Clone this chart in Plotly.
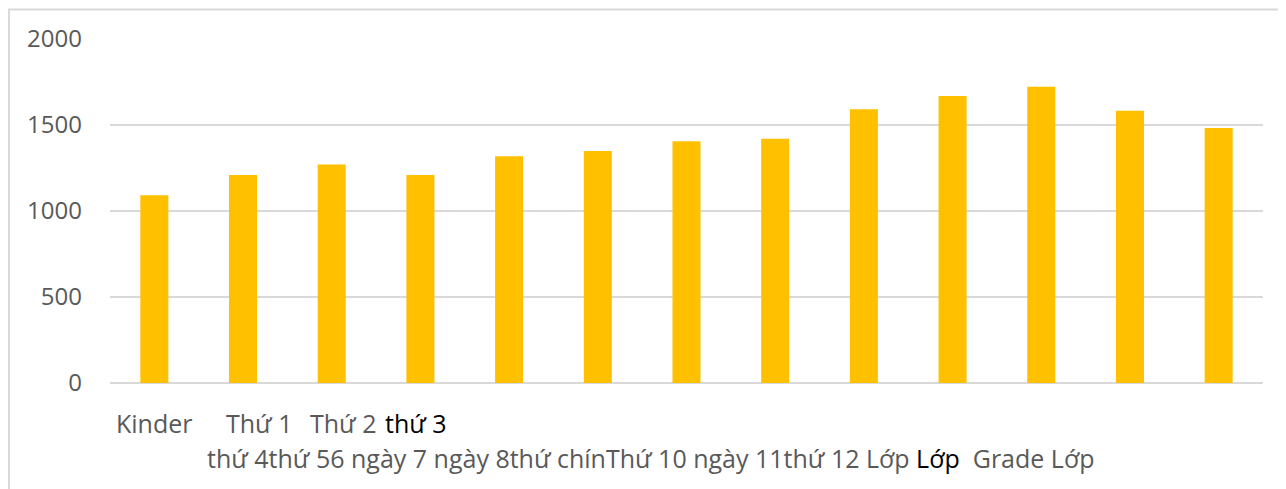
import plotly.graph_objects as go

# ---- data ----
categories = ["Kinder", "Thứ 1", "Thứ 2", "thứ 3", "thứ 4", "thứ 5", "6 ngày",
              "ngày 7", "ngày 8", "thứ chín", "Thứ 10", "ngày 11", "thứ 12"]
values = [1091, 1209, 1271, 1209, 1318, 1349, 1405, 1420, 1591, 1668, 1722, 1583, 1482]
y_ticks = [0, 500, 1000, 1500, 2000]

# axis label text as it appears (two rows)
label_row1 = ["Kinder", "Thứ 1", "Thứ 2", "thứ 3"]
label_row1_colors = ["#595959", "#595959", "#595959", "#000000"]
label_row2_parts = [("thứ 4thứ 56 ngày 7 ngày 8thứ chínThứ 10 ngày 11thứ 12 Lớp ", "#595959"),
                    ("Lớp", "#000000"),
                    ("  Grade Lớp", "#595959")]

# ---- layout geometry (page body has an 8px offset) ----
OFF = 8
W, H = 1286, 489
ML = 110 - OFF
MT = 38.5 - OFF
MR = W - (1263 - OFF)
MB = H - (383 - OFF)
PW, PH = W - ML - MR, H - MT - MB

def px_x(px):
    return (px - OFF - ML) / PW

def px_y(py):
    return (H - MB - (py - OFF)) / PH

GREY = "#595959"
FONT = "Open Sans"

fig = go.Figure(go.Bar(
    x=categories, y=values,
    marker=dict(color="#FFC000", line=dict(width=0)),
    width=0.316,
))

row1_left = [114, 224, 308, 383]
annotations = []
for txt, col, lx in zip(label_row1, label_row1_colors, row1_left):
    annotations.append(dict(
        text=txt, x=px_x(lx), y=px_y(423), xref="paper", yref="paper",
        xanchor="left", yanchor="middle", showarrow=False,
        font=dict(family=FONT, size=25, color=col)))

row2_text = "".join(f"<span style='color:{c}'>{t}</span>" for t, c in label_row2_parts)
annotations.append(dict(
    text=row2_text, x=px_x(205), y=px_y(458), xref="paper", yref="paper",
    xanchor="left", yanchor="middle", showarrow=False,
    font=dict(family=FONT, size=25, color=GREY)))

fig.update_layout(
    width=W, height=H,
    margin=dict(l=ML, r=MR, t=MT, b=MB, pad=0),
    paper_bgcolor="white", plot_bgcolor="white",
    showlegend=False,
    bargap=0.684,
    font=dict(family=FONT, size=24, color=GREY),
    xaxis=dict(showticklabels=False, showgrid=False, zeroline=False,
               showline=False, ticks="", range=[-0.5, len(categories) - 0.5]),
    yaxis=dict(range=[0, 2000], tickvals=y_ticks, showgrid=True,
               gridcolor="#D9D9D9", gridwidth=1.5, zeroline=True,
               zerolinecolor="#D9D9D9", zerolinewidth=1.5,
               showline=False, ticks="", ticklabelstandoff=27,
               tickfont=dict(family=FONT, size=24, color=GREY)),
    annotations=annotations,
    shapes=[dict(type="rect", xref="paper", yref="paper",
                 x0=px_x(OFF + 1), y0=px_y(H + 20), x1=px_x(W + 20), y1=px_y(OFF + 1),
                 line=dict(color="#D9D9D9", width=2), fillcolor="rgba(0,0,0,0)",
                 layer="below")],
)

fig.write_html("out.html")
